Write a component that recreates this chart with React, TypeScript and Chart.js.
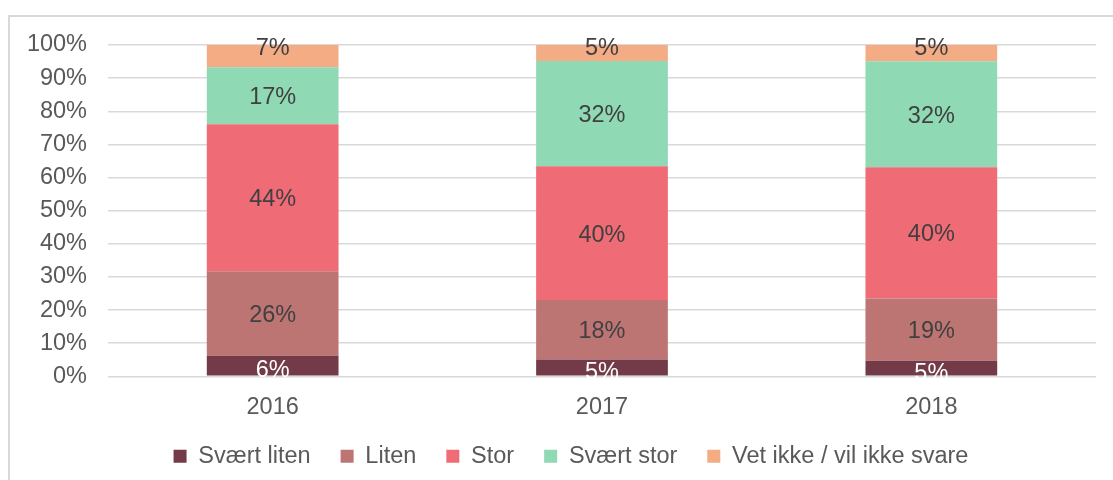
import React, { useEffect, useRef } from "react";
import { Chart, registerables } from "chart.js";

Chart.register(...registerables);

const categories = ["2016", "2017", "2018"];
const seriesNames = ["Svært liten", "Liten", "Stor", "Svært stor", "Vet ikke / vil ikke svare"];
const svaertLiten = [6.2, 5.1, 4.7];
const liten = [25.5, 17.9, 18.8];
const stor = [44.4, 40.4, 39.6];
const svaertStor = [17.2, 31.8, 32.0];
const vetIkke = [6.7, 4.8, 4.9];
const colors = ["#733b48", "#bd7574", "#ef6b76", "#8fd9b4", "#f3ac84"];
const yTicks = [0, 10, 20, 30, 40, 50, 60, 70, 80, 90, 100];

const FONT = "'Liberation Sans', Arial, sans-serif";
const FS = 23.5;
const LEGEND_TRIM = 25;
const LEGEND_DX = 9;

const labelPlugin = {
  id: "segLabels",
  afterDatasetsDraw(chart: any) {
    const ctx = chart.ctx;
    ctx.save();
    ctx.font = `${FS}px ${FONT}`;
    ctx.textAlign = "center";
    ctx.textBaseline = "middle";
    const n = chart.data.datasets.length;
    chart.data.datasets.forEach((ds: any, di: number) => {
      const meta = chart.getDatasetMeta(di);
      meta.data.forEach((el: any, i: number) => {
        const v = ds.data[i];
        let y = (el.y + el.base) / 2 + 2;
        if (di === n - 1) y = el.y + 4;
        if (di === 0) y = (el.y + el.base) / 2 + 5;
        ctx.fillStyle = di === 0 ? "#ffffff" : "#404040";
        ctx.fillText(`${Math.round(v)}%`, el.x, y);
      });
    });
    ctx.restore();
  },
};

const legendPatch = {
  id: "legendPatch",
  beforeLayout(chart: any) {
    const lg = chart.legend;
    if (!lg || lg.__patched) return;
    lg.__patched = true;
    const fit = lg.fit.bind(lg);
    lg.fit = function () {
      fit();
      this.height -= LEGEND_TRIM;
    };
    const draw = lg.draw.bind(lg);
    lg.draw = function (...args: any[]) {
      const saved = { top: this.top, height: this.height, left: this.left, right: this.right };
      this.top = saved.top - LEGEND_TRIM + 1;
      this.height = saved.height + LEGEND_TRIM;
      this.left = saved.left + LEGEND_DX;
      this.right = saved.right + LEGEND_DX;
      draw(...args);
      this.top = saved.top;
      this.height = saved.height;
      this.left = saved.left;
      this.right = saved.right;
    };
  },
};

export default function App() {
  const ref = useRef<HTMLCanvasElement | null>(null);
  useEffect(() => {
    if (!ref.current) return;
    const data = [svaertLiten, liten, stor, svaertStor, vetIkke];
    const chart = new Chart(ref.current, {
      type: "bar",
      data: {
        labels: categories,
        datasets: seriesNames.map((name, i) => ({
          label: name,
          data: data[i],
          backgroundColor: colors[i],
          borderWidth: 0,
          categoryPercentage: 1,
          barPercentage: 0.4,
        })),
      },
      options: {
        animation: false,
        responsive: true,
        maintainAspectRatio: false,
        layout: { padding: { left: 18, right: 17, top: 28, bottom: 3 } },
        plugins: {
          tooltip: { enabled: false },
          legend: {
            position: "bottom",
            labels: {
              boxWidth: 13,
              boxHeight: 13,
              padding: 30,
              color: "#595959",
              font: { family: FONT, size: FS },
            },
          },
        },
        scales: {
          x: {
            stacked: true,
            grid: { display: false, drawTicks: false },
            border: { display: false },
            ticks: { color: "#595959", font: { family: FONT, size: FS }, padding: 17 },
          },
          y: {
            stacked: true,
            min: 0,
            max: 100,
            afterBuildTicks: (axis: any) => {
              axis.ticks = yTicks.map((v) => ({ value: v }));
            },
            afterFit: (axis: any) => {
              axis.width = 80;
              axis.paddingTop = 0;
              axis.paddingBottom = 0;
            },
            grid: { color: "#d9d9d9", lineWidth: 1.5, drawTicks: false },
            border: { display: false },
            ticks: {
              autoSkip: false,
              color: "#595959",
              font: { family: FONT, size: FS },
              padding: 21,
              callback: (v: any) => `${v}%`,
            },
          },
        },
      },
      plugins: [labelPlugin, legendPatch],
    });
    return () => chart.destroy();
  }, []);
  return (
    <div
      style={{
        position: "fixed",
        left: 8,
        top: 15,
        width: 1105,
        height: 465,
        boxSizing: "border-box",
        borderLeft: "2px solid #d9d9d9",
        borderTop: "2px solid #d9d9d9",
        background: "#fff",
      }}
    >
      <canvas ref={ref} />
    </div>
  );
}
